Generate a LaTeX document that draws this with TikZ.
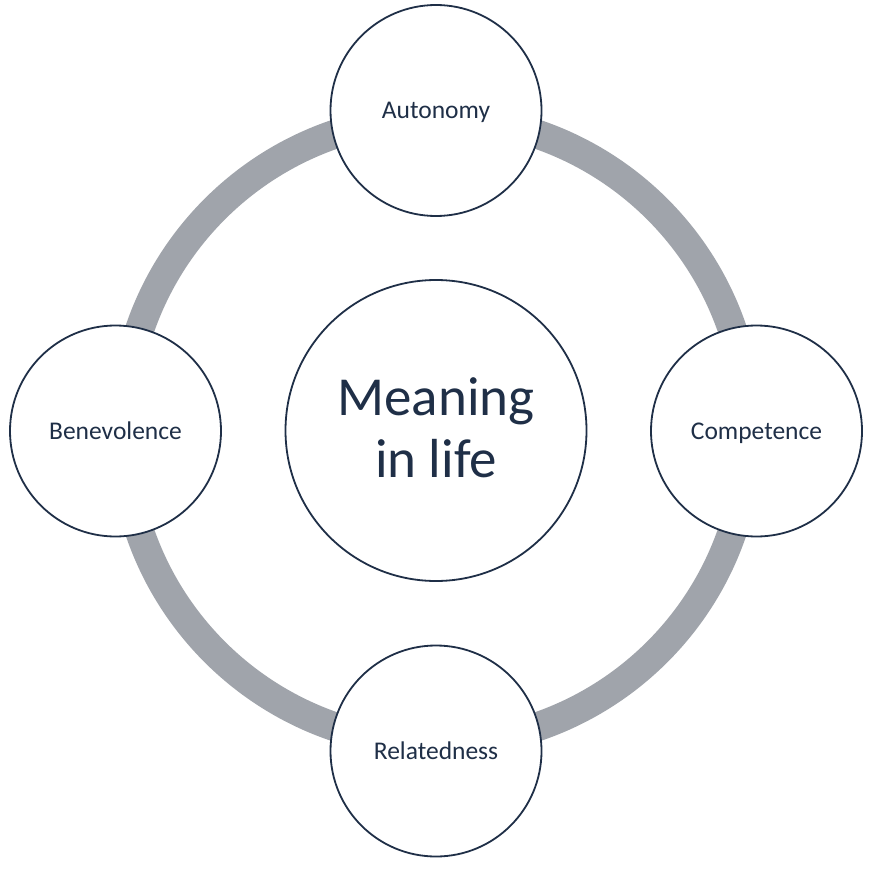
\documentclass[tikz,border=0pt]{standalone}
\usepackage{fontspec}
\setmainfont{Carlito}
\definecolor{ringgrey}{RGB}{160,164,171}
\definecolor{navy}{RGB}{31,47,71}
\begin{document}
\begin{tikzpicture}[x=1pt,y=-1pt,
  sat/.style={circle,draw=navy,line width=1.8pt,fill=white,minimum size=211pt,inner sep=0pt,
    text=navy,font=\fontsize{25.5}{30}\selectfont,text height=16.1pt,text depth=0pt},
  hub/.style={circle,draw=navy,line width=1.8pt,fill=white,minimum size=301pt,inner sep=0pt},
  hubtext/.style={anchor=base,inner sep=0pt,text=navy,font=\fontsize{55}{62}\selectfont},
  ring/.style={draw=ringgrey,line width=29pt}]
\useasboundingbox[fill=white] (0,0) rectangle (885,877);
\coordinate (c) at (436,430.5);
\draw[ring] (c) circle[radius=313pt];
\node[hub] (hub) at (c) {};
\node[hubtext] (m1) at (436,415) {Meaning};
\node[hubtext] (m2) at (436,477) {in life};
\node[sat] (aut) at (436,110.5) {Autonomy};
\node[sat] (com) at (756.5,431) {Competence};
\node[sat] (rel) at (436,751) {Relatedness};
\node[sat] (ben) at (115.5,431) {Benevolence};
\end{tikzpicture}
\end{document}
